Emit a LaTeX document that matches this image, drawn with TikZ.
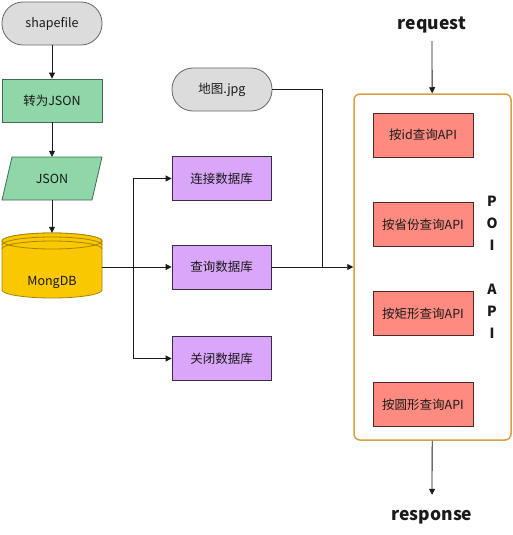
\documentclass[tikz,border=0pt]{standalone}
\usepackage{fontspec}
\setmainfont{Noto Sans CJK SC}
\usetikzlibrary{arrows.meta}
\definecolor{termfill}{HTML}{DCDCDC}
\definecolor{termline}{HTML}{666666}
\definecolor{greenfill}{HTML}{8FD6A8}
\definecolor{greenline}{HTML}{3E6A52}
\definecolor{goldfill}{HTML}{FAC800}
\definecolor{goldline}{HTML}{A88400}
\definecolor{purplefill}{HTML}{DAA6FA}
\definecolor{purpleline}{HTML}{3A2A44}
\definecolor{redfill}{HTML}{FF8A80}
\definecolor{redline}{HTML}{4A2A28}
\definecolor{poiline}{HTML}{D8A040}
\definecolor{ink}{HTML}{1A1A1A}
\tikzset{
  lbl/.style={font=\fontsize{12.5}{14}\selectfont, text=ink},
  terminal/.style={lbl, draw=termline, fill=termfill, line width=0.8pt,
    minimum width=100pt, minimum height=43pt, rounded corners=21pt, inner sep=0pt},
  procbox/.style={lbl, draw=greenline, fill=greenfill, line width=0.8pt,
    minimum width=100pt, minimum height=43pt, inner sep=0pt},
  dbbox/.style={lbl, draw=purpleline, fill=purplefill, line width=0.8pt,
    minimum width=99pt, minimum height=44pt, inner sep=0pt},
  apibox/.style={lbl, draw=redline, fill=redfill, line width=0.8pt,
    minimum width=100pt, minimum height=44pt, inner sep=0pt},
  ghost/.style={inner sep=0pt},
  conn/.style={draw=ink, line width=0.8pt},
  arr/.style={conn, -{Triangle[length=6pt,width=6pt]}},
  bigword/.style={font=\fontsize{17.5}{20}\bfseries\selectfont, text=ink, inner sep=0pt}
}
\begin{document}
\begin{tikzpicture}[x=1pt, y=-1pt]
\useasboundingbox (0,0) rectangle (512,535);

% left column: source data to database
\node[terminal] (shp) at (52,23.5) {shapefile};
\node[procbox] (tojson) at (52,100.5) {转为JSON};
% parallelogram for JSON data
\node[ghost, minimum width=90pt, minimum height=43pt] (json) at (52,178.5) {};
\path[draw=greenline, fill=greenfill, line width=0.8pt]
  (12,157) -- (102,157) -- (92,200) -- (2,200) -- cycle;
\node[lbl] at (json) {JSON};

% MongDB data store
\node[ghost, minimum width=100pt, minimum height=68pt] (mongo) at (52,267) {};
\path[draw=goldline, fill=goldfill, line width=0.8pt]
  (2,241) arc[start angle=180, end angle=360, x radius=50, y radius=8]
  -- (102,290) arc[start angle=0, end angle=180, x radius=50, y radius=8]
  -- cycle;
\path[draw=goldline, fill=goldfill, line width=0.8pt]
  (52,241) ellipse[x radius=50, y radius=8];
\draw[goldline, line width=0.8pt]
  (2,245) arc[start angle=180, end angle=360, x radius=50, y radius=8];
\draw[goldline, line width=0.8pt]
  (2,249) arc[start angle=180, end angle=360, x radius=50, y radius=8];
\node[lbl] at (52,282) {MongDB};

\draw[arr] (shp) -- (tojson);
\draw[arr] (tojson) -- (json);
\draw[arr] (json) -- (mongo);

% database operations
\node[terminal] (map) at (222,89.5) {地图.jpg};
\node[dbbox] (connect) at (221.5,178.5) {连接数据库};
\node[dbbox] (query) at (221.5,267) {查询数据库};
\node[dbbox] (close) at (221.5,358.5) {关闭数据库};

\coordinate (fork) at (133,267);
\coordinate (merge) at (322,267);
\draw[arr] (mongo.east) -- (query.west);
\draw[arr] (fork) |- (connect.west);
\draw[arr] (fork) |- (close.west);

% POI API service
\node[draw=poiline, line width=1.5pt, rounded corners=6pt, fill=white,
  minimum width=157pt, minimum height=346pt] (poi) at (432.5,267) {};
\node[apibox] (byid) at (423,135) {按id查询API};
\node[apibox] (byprov) at (423,224.5) {按省份查询API};
\node[apibox] (byrect) at (423,313.5) {按矩形查询API};
\node[apibox] (bycirc) at (423,404.5) {按圆形查询API};
\node[font=\fontsize{14}{22}\bfseries\selectfont, text=ink, align=center, inner sep=0pt]
  (poiname) at (492,267.5) {P\\O\\I\\[22pt]A\\P\\I};

\draw[conn] (map.east) -| (merge);
\draw[arr] (query.east) -- (poi.west |- query.east);

\node[bigword, minimum height=32pt] (req) at (432,25) {request};
\node[bigword, minimum height=44pt] (resp) at (432,517) {response};
\draw[arr] (req) -- (poi);
\draw[arr] (poi) -- (resp);
\end{tikzpicture}
\end{document}
